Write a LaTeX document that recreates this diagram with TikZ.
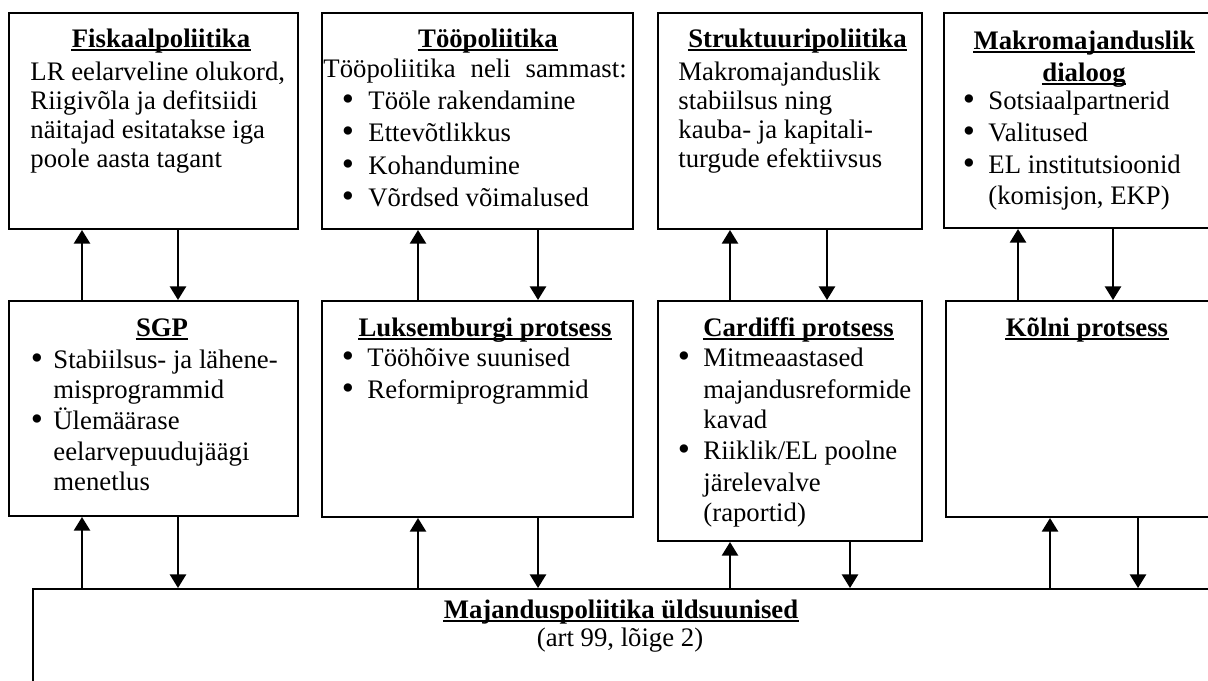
\documentclass[tikz,border=0pt]{standalone}
\usepackage{fontspec}
\setmainfont{Liberation Serif}
\usetikzlibrary{arrows.meta,fit,calc}

\newcommand\bodyfont{\fontsize{12.3}{14}\selectfont}
\tikzset{
  box/.style={draw=black, line width=0.9pt, inner sep=0pt, rectangle},
  arr/.style={line width=1.1pt, -{Triangle[length=6.3pt,width=7.4pt]}},
  txt/.style={anchor=base west, inner sep=0pt, font=\bodyfont},
  ctr/.style={anchor=base, inner sep=0pt, font=\bodyfont},
  ttl/.style={anchor=base, inner sep=0pt, font=\bodyfont\bfseries},
  blt/.style={anchor=base, inner sep=0pt, font=\fontsize{16}{16}\selectfont},
  ul/.style={line width=0.8pt},
}

% underlined bold heading: name, x, baseline y, text
\newcommand\headline[4]{%
  \node[ttl] (#1) at (#2,#3) {#4};
  \draw[ul] ([yshift=-1.4pt]#1.base west) -- ([yshift=-1.4pt]#1.base east);
}
% bullet mark: name, x, baseline y
\newcommand\bulletmark[3]{\node[blt] (#1) at (#2,#3+1.5) {\textbullet};}

\begin{document}
\begin{tikzpicture}[x=0.46pt, y=-0.46pt]
\useasboundingbox (0,0) rectangle (1208,680);
\clip (0,0) rectangle (1208,680);

% ---- top row ----
\node[box, fit={(9,13) (298,229)}] (fisk) {};
\node[box, fit={(322,13) (633,229)}] (too) {};
\node[box, fit={(658,13) (922,229)}] (strk) {};
\node[box, fit={(944,13) (1220,228)}] (makro) {};

% ---- middle row ----
\node[box, fit={(9,301) (298,516)}] (sgp) {};
\node[box, fit={(322,301) (633,517)}] (lux) {};
\node[box, fit={(658,301) (922,541)}] (card) {};
\node[box, fit={(946,301) (1220,517)}] (koln) {};

% ---- bottom box ----
\node[box, fit={(33,589) (1230,720)}] (gen) {};

% Fiskaalpoliitika
\headline{fiskT}{161}{47}{Fiskaalpoliitika}
\node[txt] (fisk1) at (30,80) {LR eelarveline olukord,};
\node[txt] (fisk2) at (30,109) {Riigivõla ja defitsiidi};
\node[txt] (fisk3) at (30,138) {näitajad esitatakse iga};
\node[txt] (fisk4) at (30,167) {poole aasta tagant};

% Tööpoliitika (justified first line)
\headline{tooT}{488}{47}{Tööpoliitika}
\node[txt] (too0) at (323,77) {\makebox[139.5pt][s]{Tööpoliitika neli sammast:}};
\bulletmark{tooB1}{348}{109} \node[txt] (too1) at (368,109) {Tööle rakendamine};
\bulletmark{tooB2}{348}{141} \node[txt] (too2) at (368,141) {Ettevõtlikkus};
\bulletmark{tooB3}{348}{174} \node[txt] (too3) at (368,174) {Kohandumine};
\bulletmark{tooB4}{348}{206} \node[txt] (too4) at (368,206) {Võrdsed võimalused};

% Struktuuripoliitika
\headline{strkT}{797.5}{47}{Struktuuripoliitika}
\node[txt] (strk1) at (678,80) {Makromajanduslik};
\node[txt] (strk2) at (678,109) {stabiilsus ning};
\node[txt] (strk3) at (678,138) {kauba- ja kapitali-};
\node[txt] (strk4) at (678,167) {turgude efektiivsus};

% Makromajanduslik dialoog
\headline{makroT1}{1084}{49}{Makromajanduslik}
\headline{makroT2}{1084}{81}{dialoog}
\bulletmark{makroB1}{969}{109} \node[txt] (makro1) at (988,109) {Sotsiaalpartnerid};
\bulletmark{makroB2}{969}{141} \node[txt] (makro2) at (988,141) {Valitused};
\bulletmark{makroB3}{969}{173} \node[txt] (makro3) at (988,173) {EL institutsioonid};
\node[txt] (makro4) at (988,204) {(komisjon, EKP)};

% SGP
\headline{sgpT}{162}{336}{SGP}
\bulletmark{sgpB1}{37}{368} \node[txt] (sgp1) at (53,368) {Stabiilsus- ja lähene-};
\node[txt] (sgp2) at (53,398) {misprogrammid};
\bulletmark{sgpB2}{37}{429} \node[txt] (sgp3) at (53,429) {Ülemäärase};
\node[txt] (sgp4) at (53,460) {eelarvepuudujäägi};
\node[txt] (sgp5) at (53,490) {menetlus};

% Luksemburgi protsess
\headline{luxT}{485}{336}{Luksemburgi protsess}
\bulletmark{luxB1}{348}{366} \node[txt] (lux1) at (367,366) {Tööhõive suunised};
\bulletmark{luxB2}{348}{398} \node[txt] (lux2) at (367,398) {Reformiprogrammid};

% Cardiffi protsess
\headline{cardT}{798.5}{336}{Cardiffi protsess}
\bulletmark{cardB1}{684}{366} \node[txt] (card1) at (703,366) {Mitmeaastased};
\node[txt] (card2) at (703,398) {majandusreformide};
\node[txt] (card3) at (703,428) {kavad};
\bulletmark{cardB2}{684}{459} \node[txt] (card4) at (703,459) {Riiklik/EL poolne};
\node[txt] (card5) at (703,491) {järelevalve};
\node[txt] (card6) at (703,521) {(raportid)};

% Kõlni protsess
\headline{kolnT}{1087}{336}{Kõlni protsess}

% Majanduspoliitika üldsuunised
\headline{genT}{621}{618}{Majanduspoliitika üldsuunised}
\node[ctr] (gen1) at (620,646) {(art 99, lõige 2)};

% ---- arrow columns ----
\coordinate (c1) at (82,0);   \coordinate (c2) at (178,0);
\coordinate (c3) at (418,0);  \coordinate (c4) at (538,0);
\coordinate (c5) at (730,0);  \coordinate (c6) at (827,0);
\coordinate (c7) at (1018,0); \coordinate (c8) at (1113,0);
\coordinate (c9) at (850,0);  \coordinate (c10) at (1050,0);
\coordinate (c11) at (1138,0);

% top row <-> middle row
\draw[arr] (sgp.north -| c1) -- (fisk.south -| c1);
\draw[arr] (fisk.south -| c2) -- (sgp.north -| c2);
\draw[arr] (lux.north -| c3) -- (too.south -| c3);
\draw[arr] (too.south -| c4) -- (lux.north -| c4);
\draw[arr] (card.north -| c5) -- (strk.south -| c5);
\draw[arr] (strk.south -| c6) -- (card.north -| c6);
\draw[arr] (koln.north -| c7) -- (makro.south -| c7);
\draw[arr] (makro.south -| c8) -- (koln.north -| c8);

% middle row <-> bottom box
\draw[arr] (gen.north -| c1) -- (sgp.south -| c1);
\draw[arr] (sgp.south -| c2) -- (gen.north -| c2);
\draw[arr] (gen.north -| c3) -- (lux.south -| c3);
\draw[arr] (lux.south -| c4) -- (gen.north -| c4);
\draw[arr] (gen.north -| c5) -- (card.south -| c5);
\draw[arr] (card.south -| c9) -- (gen.north -| c9);
\draw[arr] (gen.north -| c10) -- (koln.south -| c10);
\draw[arr] (koln.south -| c11) -- (gen.north -| c11);
\end{tikzpicture}
\end{document}
